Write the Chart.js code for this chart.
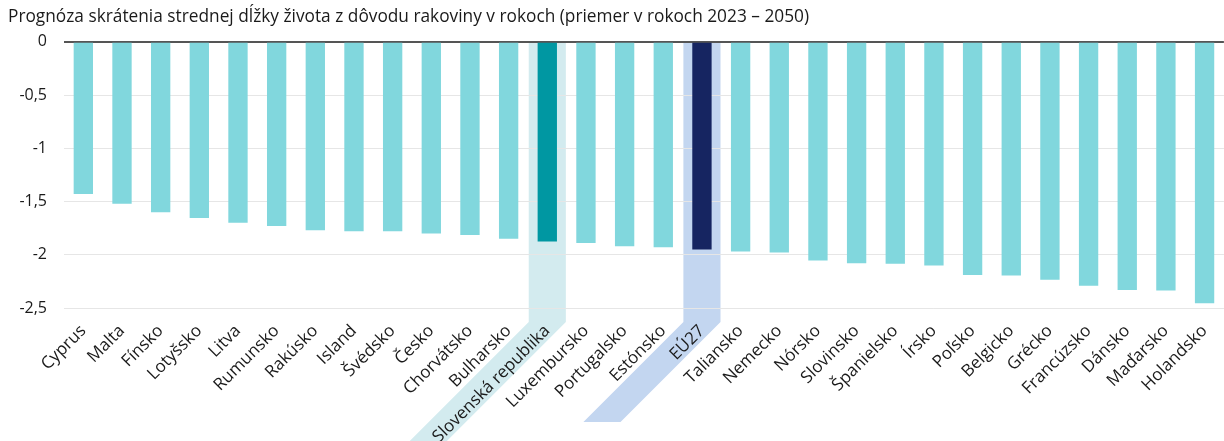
<!DOCTYPE html>
<html>
<head>
<meta charset="utf-8">
<script src="https://cdn.jsdelivr.net/npm/chart.js@4/dist/chart.umd.min.js"></script>
<style>
  html, body { margin: 0; padding: 0; background: #fff; }
  #wrap { width: 1224px; height: 441px; position: relative; }
</style>
</head>
<body>
<div id="wrap"><canvas id="lifeChart"></canvas></div>
<script>
// data
var countries = ["Cyprus", "Malta", "Fínsko", "Lotyšsko", "Litva", "Rumunsko", "Rakúsko", "Island",
  "Švédsko", "Česko", "Chorvátsko", "Bulharsko", "Slovenská republika", "Luxembursko", "Portugalsko",
  "Estónsko", "EÚ27", "Taliansko", "Nemecko", "Nórsko", "Slovinsko", "Španielsko", "Írsko", "Poľsko",
  "Belgicko", "Grécko", "Francúzsko", "Dánsko", "Maďarsko", "Holandsko"];
var lifeLoss = [-1.43, -1.52, -1.60, -1.655, -1.70, -1.73, -1.77, -1.78,
  -1.78, -1.80, -1.815, -1.85, -1.875, -1.89, -1.92,
  -1.93, -1.95, -1.97, -1.98, -2.055, -2.08, -2.085, -2.10, -2.19,
  -2.195, -2.235, -2.29, -2.33, -2.335, -2.455];
var yTicks = [0, -0.5, -1, -1.5, -2, -2.5];
var titleText = "Prognóza skrátenia strednej dĺžky života z dôvodu rakoviny v rokoch (priemer v rokoch 2023 – 2050)";

var barColor = "#81D7DD";
var specialColors = { "Slovenská republika": "#0097A2", "EÚ27": "#162561" };
var bandSetup = [
    { name: "Slovenská republika", color: "#D3EBEF", drop: 140 },
    { name: "EÚ27", color: "#C3D6F0", drop: 100 }
];

// highlight bands behind the chosen columns and their labels
var bandPlugin = {
    id: "bands",
    beforeDraw: function(chart) {
        var ctx = chart.ctx;
        var x = chart.scales.x;
        var area = chart.chartArea;
        var step = x.getPixelForValue(1) - x.getPixelForValue(0);
        var half = step * 0.48;
        var yBend = area.bottom + 14;
        ctx.save();
        for (let i = 0; i < bandSetup.length; i++) {
            var b = bandSetup[i];
            var cx = x.getPixelForValue(countries.indexOf(b.name));
            var x0 = cx - half, x1 = cx + half;
            var yEnd = yBend + b.drop;
            ctx.fillStyle = b.color;
            ctx.beginPath();
            ctx.moveTo(x0, area.top);
            ctx.lineTo(x1, area.top);
            ctx.lineTo(x1, yBend);
            ctx.lineTo(x1 - b.drop, yEnd);
            ctx.lineTo(x0 - b.drop, yEnd);
            ctx.lineTo(x0, yBend);
            ctx.closePath();
            ctx.fill();
        }
        ctx.restore();
    }
};

Chart.defaults.font.family = "'Open Sans', sans-serif";
Chart.defaults.color = "#1a1a1a";

var ctx = document.getElementById("lifeChart").getContext("2d");
new Chart(ctx, {
    type: "bar",
    data: {
        labels: countries,
        datasets: [{
            data: lifeLoss,
            backgroundColor: countries.map(c => specialColors[c] || barColor),
            barPercentage: 0.5,
            categoryPercentage: 1.0,
            borderWidth: 0
        }]
    },
    options: {
        responsive: true,
        maintainAspectRatio: false,
        animation: false,
        layout: { padding: { left: 8, right: 0, top: 0, bottom: 0 } },
        plugins: {
            legend: { display: false },
            tooltip: { enabled: false },
            title: {
                display: true,
                text: titleText,
                align: "start",
                color: "#1a1a1a",
                font: { size: 17.3, weight: "normal" },
                padding: { top: 7, bottom: 14 }
            }
        },
        scales: {
            x: {
                grid: { display: false },
                border: { display: false },
                ticks: {
                    autoSkip: false,
                    maxRotation: 45,
                    minRotation: 45,
                    padding: 5,
                    font: { size: 17 }
                },
                afterFit: function(scale) { scale.height = 133; }
            },
            y: {
                min: -2.5,
                max: 0,
                afterBuildTicks: function(scale) {
                    scale.ticks = yTicks.map(v => ({ value: v }));
                },
                grid: {
                    drawTicks: false,
                    color: function(c) { return c.tick && c.tick.value === 0 ? "#555555" : "#E6E6E6"; },
                    lineWidth: function(c) { return c.tick && c.tick.value === 0 ? 2 : 1; }
                },
                border: { display: false },
                ticks: {
                    padding: 17,
                    font: { size: 16 },
                    callback: function(v) { return String(v).replace(".", ","); }
                },
                afterFit: function(scale) { scale.width = 56; }
            }
        }
    },
    plugins: [bandPlugin]
});
</script>
</body>
</html>
